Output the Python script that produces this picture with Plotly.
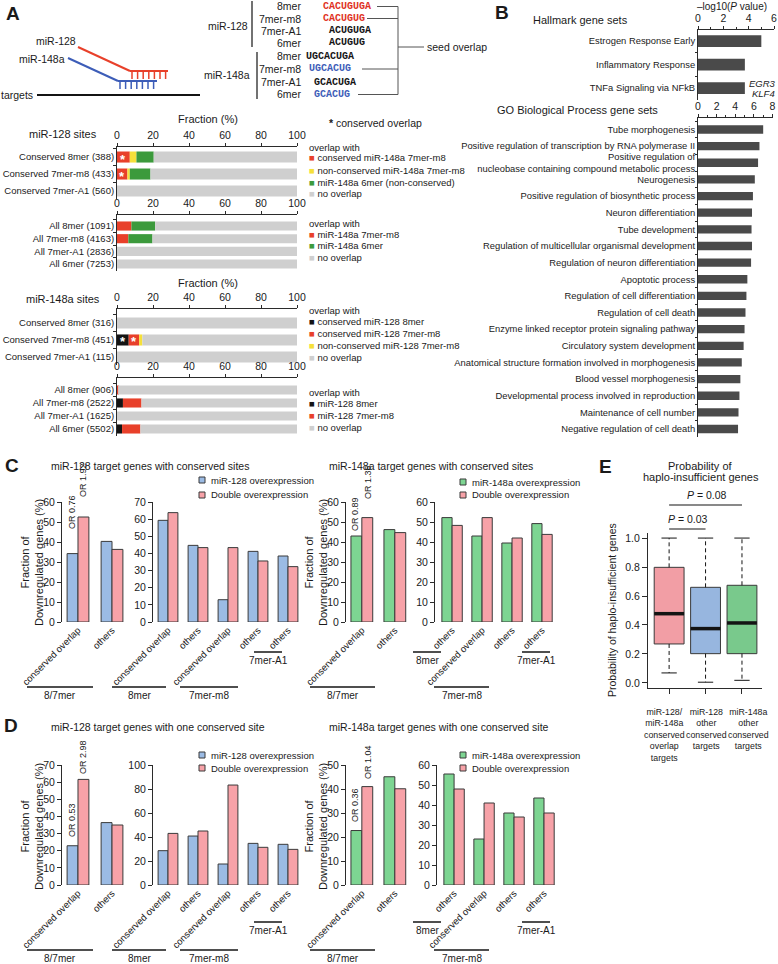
import numpy as np
import plotly.graph_objects as go

W, H = 778, 964
FONT = "Liberation Sans, Arial, Helvetica, sans-serif"
MONO = "Liberation Mono, Courier New, monospace"
TXT = "#1a1a1a"
AX = "#2b2b2b"
EDGE = "#3a3a3a"

RED = "#E8402A"; YELLOW = "#F5E03A"; DKGREEN = "#3C9A3C"; GREY = "#CFCFCF"; BLACK = "#141414"
SEQ_RED = "#E0321E"; SEQ_BLUE = "#3D5DB8"
BLUE_BAR = "#9BBBE4"; PINK_BAR = "#F7A2A8"; GREEN_BAR = "#7DD592"
GO_BAR = "#4a4a4a"
E_COLORS = ["#F29EA5", "#97B6DF", "#79C98C"]

# ======================= DATA =======================
# Panel A: fraction (%) of seed sites overlapping the other miRNA's sites
fraction_ticks = [0, 20, 40, 60, 80, 100]

a128_cons_labels = ["Conserved 8mer (388)", "Conserved 7mer-m8 (433)", "Conserved 7mer-A1 (560)"]
a128_cons_red = [7.1, 5.8, 0.0]
a128_cons_yellow = [3.7, 1.3, 0.0]
a128_cons_green = [9.6, 11.5, 0.0]
a128_cons_legend = ["conserved miR-148a 7mer-m8", "non-conserved miR-148a 7mer-m8",
                    "miR-148a 6mer (non-conserved)", "no overlap"]

a128_all_labels = ["All 8mer (1091)", "All 7mer-m8 (4163)", "All 7mer-A1 (2836)", "All 6mer (7253)"]
a128_all_red = [8.0, 6.3, 0.0, 0.0]
a128_all_green = [13.2, 13.4, 0.0, 0.0]
a128_all_legend = ["miR-148a 7mer-m8", "miR-148a 6mer", "no overlap"]

a148_cons_labels = ["Conserved 8mer (316)", "Conserved 7mer-m8 (451)", "Conserved 7mer-A1 (115)"]
a148_cons_black = [0.0, 6.5, 0.0]
a148_cons_red = [0.0, 5.8, 0.0]
a148_cons_yellow = [0.0, 1.8, 0.0]
a148_cons_legend = ["conserved miR-128 8mer", "conserved miR-128 7mer-m8",
                    "non-conserved miR-128 7mer-m8", "no overlap"]

a148_all_labels = ["All 8mer (906)", "All 7mer-m8 (2522)", "All 7mer-A1 (1625)", "All 6mer (5502)"]
a148_all_black = [0.0, 3.3, 0.0, 2.8]
a148_all_red = [0.6, 10.3, 0.0, 10.2]
a148_all_legend = ["miR-128 8mer", "miR-128 7mer-m8", "no overlap"]

# Panel A schematic seed table
mir128_site_types = ["8mer", "7mer-m8", "7mer-A1", "6mer"]
mir128_seqs = ["CACUGUGA", "CACUGUG", "ACUGUGA", "ACUGUG"]
mir148_site_types = ["8mer", "7mer-m8", "7mer-A1", "6mer"]
mir148_seqs = ["UGCACUGA", "UGCACUG", "GCACUGA", "GCACUG"]

# Panel B: enrichment -log10(P)
hallmark_sets = ["Estrogen Response Early", "Inflammatory Response", "TNFa Signaling via NFkB"]
hallmark_logp = [5.0, 3.7, 3.7]
hallmark_ticks = [0, 2, 4, 6]
go_sets = ["Tube morphogenesis",
           "Positive regulation of transcription by RNA polymerase II",
           "Positive regulation of<br>nucleobase containing compound metabolic process",
           "Neurogenesis",
           "Positive regulation of biosynthetic process",
           "Neuron differentiation",
           "Tube development",
           "Regulation of multicellular organismal development",
           "Regulation of neuron differentiation",
           "Apoptotic process",
           "Regulation of cell differentiation",
           "Regulation of cell death",
           "Enzyme linked receptor protein signaling pathway",
           "Circulatory system development",
           "Anatomical structure formation involved in morphogenesis",
           "Blood vessel morphogenesis",
           "Developmental process involved in reproduction",
           "Maintenance of cell number",
           "Negative regulation of cell death"]
go_logp = [7.0, 6.6, 6.45, 6.1, 5.9, 5.8, 5.75, 5.8, 5.7, 5.3, 5.2, 5.1, 5.0, 4.9,
           4.7, 4.55, 4.45, 4.35, 4.3]
go_ticks = [0, 2, 4, 6, 8]

# Panels C/D: fraction of downregulated genes (%)
grp_87 = ["8/7mer", "8/7mer"]
cat_87 = ["conserved overlap", "others"]
grp_128 = ["8mer", "8mer", "7mer-m8", "7mer-m8", "7mer-A1"]
cat_128 = ["conserved overlap", "others", "conserved overlap", "others", "others"]
grp_148 = ["8mer", "7mer-m8", "7mer-m8", "7mer-A1"]
cat_148 = ["others", "conserved overlap", "others", "others"]

c1_single = [34.2, 40.3]; c1_double = [52.5, 36.3]
c2_single = [59.3, 44.7, 13.0, 41.2, 38.5]; c2_double = [63.8, 43.4, 43.4, 35.6, 32.3]
c3_single = [43.0, 46.2]; c3_double = [52.2, 44.7]
c4_single = [52.2, 43.0, 39.5, 49.2]; c4_double = [48.3, 52.2, 42.0, 43.8]
c_odds = ["OR 0.76", "OR 1.92", "OR 0.89", "OR 1.36"]

d1_single = [22.9, 36.4]; d1_double = [61.6, 35.0]
d2_single = [28.6, 40.8, 17.5, 34.7, 33.9]; d2_double = [43.0, 45.0, 83.3, 31.4, 29.7]
d3_single = [22.7, 45.1]; d3_double = [41.0, 40.1]
d4_single = [55.5, 23.0, 36.0, 43.5]; d4_double = [48.0, 41.0, 34.0, 36.0]
d_odds = ["OR 0.53", "OR 2.98", "OR 0.36", "OR 1.04"]

# Panel E: probability of haplo-insufficiency (box statistics)
e_groups = ["miR-128/<br>miR-148a<br>conserved<br>overlap<br>targets",
            "miR-128<br>other<br>conserved<br>targets",
            "miR-148a<br>other<br>conserved<br>targets"]
e_lo = [0.069, 0.005, 0.018]
e_q1 = [0.269, 0.202, 0.202]
e_med = [0.478, 0.375, 0.414]
e_q3 = [0.798, 0.660, 0.674]
e_hi = [1.0, 1.0, 1.0]
e_yticks = [0.0, 0.2, 0.4, 0.6, 0.8, 1.0]
e_pvals = ["<i>P</i> = 0.03", "<i>P</i> = 0.08"]

# ======================= HELPERS =======================
annotations, shapes, traces, axes = [], [], [], {}


def X(px):
    return px / W


def Y(py):
    return 1 - py / H


def tf(size):
    return dict(family=FONT, size=size, color=TXT)


def ann(text, px, py, size=10, xa="center", ya="middle", color=TXT, angle=0, family=FONT, **kw):
    annotations.append(dict(text=text, x=X(px), y=Y(py), xref="paper", yref="paper",
                            showarrow=False, xanchor=xa, yanchor=ya, textangle=angle,
                            borderpad=0, font=dict(family=family, size=size, color=color), **kw))


def seg(x0, y0, x1, y1, color=AX, width=1, dash=None):
    shapes.append(dict(type="line", xref="paper", yref="paper", x0=X(x0), y0=Y(y0),
                       x1=X(x1), y1=Y(y1), line=dict(color=color, width=width, dash=dash)))


def square(px, py, color, size=6):
    shapes.append(dict(type="rect", xref="paper", yref="paper",
                       x0=X(px), x1=X(px + size), y0=Y(py + size / 2), y1=Y(py - size / 2),
                       fillcolor=color, line=dict(color=EDGE, width=1)))


BASE_AX = dict(showgrid=False, zeroline=False, linecolor=AX, linewidth=1, tickcolor=AX,
               tickwidth=1, tickfont=tf(10), automargin=False, fixedrange=True)


def new_axes(xpx, ypx, xopts, yopts):
    n = len(axes) // 2 + 1
    sfx = "" if n == 1 else str(n)
    xo = dict(BASE_AX); xo.update(xopts)
    yo = dict(BASE_AX); yo.update(yopts)
    xo.update(domain=[X(xpx[0]), X(xpx[1])], anchor="y" + sfx)
    yo.update(domain=[Y(ypx[1]), Y(ypx[0])], anchor="x" + sfx)
    axes["xaxis" + sfx] = xo
    axes["yaxis" + sfx] = yo
    return "x" + sfx, "y" + sfx


def stacked(ypx, labels, segments, colors, yrange, width):
    xa, ya = new_axes((117, 297), ypx,
                      dict(range=[0, 100], side="top", showline=True, ticks="outside",
                           ticklen=3, tickvals=fraction_ticks, tickfont=tf(10.5)),
                      dict(type="category", categoryorder="array", categoryarray=labels,
                           range=yrange, showline=True, ticks="outside", ticklen=3,
                           tickson="boundaries", tickfont=tf(9.5)))
    segs = [np.array(s, dtype=float) for s in segments]
    segs.append(100 - np.sum(segs, axis=0))
    base = np.zeros(len(labels))
    for vals, col in zip(segs, colors + [GREY]):
        traces.append(go.Bar(y=labels, x=vals, base=base.copy(), orientation="h", width=width,
                             marker=dict(color=col, line=dict(width=0)), xaxis=xa, yaxis=ya,
                             hoverinfo="skip"))
        base = base + vals
    return xa, ya


def star(xa, ya, xval, label):
    annotations.append(dict(text="<b>*</b>", x=xval, y=label, xref=xa, yref=ya, showarrow=False,
                            yshift=-2, font=dict(family=FONT, size=13, color="white")))


def legend_block(px, ys, header, colors, texts):
    ann(header, px, ys[0], size=9.5, xa="left")
    for yy, col, t in zip(ys[1:], colors, texts):
        ann('<span style="color:%s">■</span> %s' % (col, t), px, yy, size=9.5, xa="left")


def group_chart(xpx, ypx, xrange, yrange, dtick, groups, cats, single, double, col1, w):
    keys = [g + "|" + c for g, c in zip(groups, cats)]
    xa, ya = new_axes(xpx, ypx,
                      dict(type="category", categoryorder="array", categoryarray=keys,
                           tickvals=keys, ticktext=cats, range=xrange, showline=False,
                           ticks="", tickangle=-45, tickfont=tf(9.5)),
                      dict(range=yrange, showline=True, ticks="outside", ticklen=4,
                           tick0=0, dtick=dtick, tickfont=tf(10.5)))
    for vals, col, off in ((single, col1, -w), (double, PINK_BAR, 0)):
        traces.append(go.Bar(x=keys, y=vals, width=w, offset=off,
                             marker=dict(color=col, line=dict(color=EDGE, width=1)),
                             xaxis=xa, yaxis=ya, hoverinfo="skip"))
    return xa, ya


# ======================= PANEL A =======================
ann("<b>A</b>", 13, 14, size=19)
ann("miR-128", 56, 41, size=10.5)
ann("miR-148a", 42, 59, size=10.5)
ann("targets", 34, 95, size=10.5, xa="right")
seg(78, 47, 130, 71, RED, 2); seg(130, 71, 168, 71, RED, 2)
for k in range(7):
    seg(132 + k * 5.6, 71, 132 + k * 5.6, 79, RED, 1.5)
seg(68, 58, 118, 81, SEQ_BLUE, 2); seg(118, 81, 157, 81, SEQ_BLUE, 2)
for k in range(7):
    seg(120 + k * 5.6, 81, 120 + k * 5.6, 89, SEQ_BLUE, 1.5)
seg(37, 95, 200, 95, BLACK, 2)

ann("miR-128", 249, 26, size=10.5, xa="right")
ann("miR-148a", 251, 75, size=10.5, xa="right")
seg(252, 1, 252, 47, BLACK, 1.2)
seg(257, 52, 257, 99, BLACK, 1.2)
site_y128 = [6.5, 18.5, 31, 43]
site_y148 = [56, 69, 82, 94.5]
seq_x128 = [322, 322, 328, 328]
seq_x148 = [305, 308, 313, 313]
seq_c128 = [SEQ_RED, SEQ_RED, BLACK, BLACK]
seq_c148 = [BLACK, SEQ_BLUE, BLACK, SEQ_BLUE]
for t, s, yy, xx, cc in zip(mir128_site_types, mir128_seqs, site_y128, seq_x128, seq_c128):
    ann(t, 302, yy, size=10.5, xa="right")
    ann("<b>%s</b>" % s, xx, yy, size=10, xa="left", color=cc, family=MONO)
for t, s, yy, xx, cc in zip(mir148_site_types, mir148_seqs, site_y148, seq_x148, seq_c148):
    ann(t, 302, yy, size=10.5, xa="right")
    ann("<b>%s</b>" % s, xx, yy, size=10, xa="left", color=cc, family=MONO)
seg(377, 6.5, 398, 6.5, "#555"); seg(367, 18.5, 398, 18.5, "#555")
seg(362, 69, 398, 69, "#555"); seg(358, 94.5, 398, 94.5, "#555")
seg(398, 6.5, 398, 94.5, "#555"); seg(398, 47, 424, 47, "#555")
ann("seed overlap", 426, 47, size=10.5, xa="left")

ann("Fraction (%)", 208, 119, size=11)
ann("miR-128 sites", 63, 134, size=11)
ann("<b>*</b> conserved overlap", 328, 123, size=10.5, xa="left")
xa1, ya1 = stacked((147, 199), a128_cons_labels,
                   [a128_cons_red, a128_cons_yellow, a128_cons_green],
                   [RED, YELLOW, DKGREEN], [2.47, -0.59], 0.65)
for lab, r in zip(a128_cons_labels, a128_cons_red):
    if r > 0:
        star(xa1, ya1, r / 2, lab)
legend_block(308, [147, 158, 170, 182, 194], "overlap with", [RED, YELLOW, DKGREEN, GREY],
             a128_cons_legend)

stacked((215, 271), a128_all_labels, [a128_all_red, a128_all_green], [RED, DKGREEN],
        [3.55, -0.87], 0.72)
legend_block(308, [223, 234, 246, 258], "overlap with", [RED, DKGREEN, GREY], a128_all_legend)

ann("Fraction (%)", 208, 283, size=11)
ann("miR-148a sites", 63, 299, size=11)
xa3, ya3 = stacked((309, 365), a148_cons_labels,
                   [a148_cons_black, a148_cons_red, a148_cons_yellow],
                   [BLACK, RED, YELLOW], [2.47, -0.82], 0.65)
for lab, b, r in zip(a148_cons_labels, a148_cons_black, a148_cons_red):
    if b > 0:
        star(xa3, ya3, b / 2, lab)
    if r > 0:
        star(xa3, ya3, b + r / 2, lab)
legend_block(308, [311, 322, 333, 345, 357], "overlap with", [BLACK, RED, YELLOW, GREY],
             a148_cons_legend)

stacked((378, 436), a148_all_labels, [a148_all_black, a148_all_red], [BLACK, RED],
        [3.54, -0.92], 0.7)
legend_block(308, [392, 403, 415, 427], "overlap with", [BLACK, RED, GREY], a148_all_legend)

# ======================= PANEL B =======================
ann("<b>B</b>", 502, 13, size=19)
ann("Hallmark gene sets", 580, 20, size=11)
ann("–log10(<i>P</i> value)", 732, 7, size=10)
ann("GO Biological Process gene sets", 577, 110, size=11)
ann("<i>EGR3</i>", 777, 83, size=9.5, xa="right")
ann("<i>KLF4</i>", 776, 94, size=9.5, xa="right")

xb1, yb1 = new_axes((698, 774), (30, 100),
                    dict(range=[0, 6], side="top", showline=True, ticks="outside", ticklen=3,
                         tickvals=hallmark_ticks, tickfont=tf(10.5),
                         minor=dict(ticks="outside", ticklen=2, dtick=1, tick0=0, tickcolor=AX)),
                    dict(type="category", categoryorder="array", categoryarray=hallmark_sets,
                         range=[2.51, -0.47], showline=True, ticks="outside", ticklen=2,
                         tickson="boundaries", tickfont=tf(9.4)))
traces.append(go.Bar(y=hallmark_sets, x=hallmark_logp, orientation="h", width=0.5,
                     marker=dict(color=GO_BAR, line=dict(width=0)), xaxis=xb1, yaxis=yb1,
                     hoverinfo="skip"))
xb2, yb2 = new_axes((698, 772.5), (118, 437),
                    dict(range=[0, 8], side="top", showline=True, ticks="outside", ticklen=3,
                         tickvals=go_ticks, tickfont=tf(10.5),
                         minor=dict(ticks="outside", ticklen=2, dtick=1, tick0=0, tickcolor=AX)),
                    dict(type="category", categoryorder="array", categoryarray=go_sets,
                         range=[18.48, -0.69], showline=True, ticks="outside", ticklen=2,
                         tickson="boundaries", tickfont=tf(9.4)))
traces.append(go.Bar(y=go_sets, x=go_logp, orientation="h", width=0.5,
                     marker=dict(color=GO_BAR, line=dict(width=0)), xaxis=xb2, yaxis=yb2,
                     hoverinfo="skip"))

# ======================= PANELS C & D =======================
ytitle = "Fraction of<br>Downregulated genes (%)"
for (lab, lx, ly, top, t1, t2, ylab, ch, odds, orpos, sq1, sq2, ul_lo, ul_hi) in [
    ("C", 12, 465, 466, "miR-128 target genes with conserved sites",
     "miR-148a target genes with conserved sites", 563,
     [((62, 128), (502, 622), [-0.47, 1.47], [0, 60], 10, grp_87, cat_87, c1_single, c1_double, BLUE_BAR, 0.32),
      ((153, 303), (502, 622), [-0.5, 4.5], [0, 70], 10, grp_128, cat_128, c2_single, c2_double, BLUE_BAR, 0.33),
      ((346, 412), (502, 622), [-0.48, 1.52], [0, 60], 10, grp_87, cat_87, c3_single, c3_double, GREEN_BAR, 0.33),
      ((435, 557), (502, 622), [-0.57, 3.5], [0, 60], 10, grp_148, cat_148, c4_single, c4_double, GREEN_BAR, 0.34)],
     c_odds, [(72, 530), (83, 498), (355, 532), (368, 500)], (480, 495), (482, 495), 687, 652),
    ("D", 11, 725, 727, "miR-128 target genes with one conserved site",
     "miR-148a target genes with one conserved site", 827,
     [((62, 128), (765, 885), [-0.47, 1.47], [0, 70], 10, grp_87, cat_87, d1_single, d1_double, BLUE_BAR, 0.32),
      ((153, 303), (765, 885), [-0.5, 4.5], [0, 100], 20, grp_128, cat_128, d2_single, d2_double, BLUE_BAR, 0.33),
      ((346, 412), (765, 885), [-0.48, 1.52], [0, 50], 10, grp_87, cat_87, d3_single, d3_double, GREEN_BAR, 0.33),
      ((437, 559), (765, 885), [-0.57, 3.5], [0, 60], 10, grp_148, cat_148, d4_single, d4_double, GREEN_BAR, 0.34)],
     d_odds, [(72, 838), (83, 775), (355, 823), (368, 780)], (755, 768), (755, 768), 950, 922)]:
    ann("<b>%s</b>" % lab, lx, ly, size=19)
    ann(t1, 50, top, size=10.5, xa="left")
    ann(t2, 328, top, size=10.5, xa="left")
    for args in ch:
        group_chart(*args)
    ann(ytitle, 32, ylab, size=11, angle=-90)
    ann(ytitle, 316, ylab, size=11, angle=-90)
    for txt, (ox, oy) in zip(odds, orpos):
        ann(txt, ox, oy, size=9, angle=-90, ya="bottom")
    square(199, sq1[0], BLUE_BAR); square(199, sq1[1], PINK_BAR)
    ann("miR-128 overexpression", 210, sq1[0], size=9.5, xa="left")
    ann("Double overexpression", 210, sq1[1], size=9.5, xa="left")
    square(460, sq2[0], GREEN_BAR); square(460, sq2[1], PINK_BAR)
    ann("miR-148a overexpression", 471, sq2[0], size=9.5, xa="left")
    ann("Double overexpression", 471, sq2[1], size=9.5, xa="left")
    # group underlines
    for x0, x1, yy, name in [(27, 93, ul_lo, "8/7mer"), (112, 166, ul_lo, "8mer"),
                             (180, 238, ul_lo, "7mer-m8"), (254, 282, ul_hi, "7mer-A1"),
                             (310, 375, ul_lo, "8/7mer"), (413, 441, ul_hi, "8mer"),
                             (434, 489, ul_lo, "7mer-m8"), (522, 550, ul_hi, "7mer-A1")]:
        seg(x0, yy, x1, yy, BLACK, 1.5)
        ann(name, (x0 + x1) / 2, yy + 8.5, size=10)

# ======================= PANEL E =======================
ann("<b>E</b>", 605, 466, size=19)
ann("Probability of", 700, 466, size=11)
ann("haplo-insufficient genes", 701, 477, size=11)
ann("Probability of haplo-insufficient genes", 612, 610, size=10.5, angle=-90)
xe, ye = new_axes((648, 762), (533, 688),
                  dict(range=[-0.58, 2.55], showline=True, ticks="outside", ticklen=5,
                       tickvals=[0, 1, 2], ticktext=["", "", ""], tickangle=0),
                  dict(range=[-0.035, 1.035], showline=True, ticks="outside", ticklen=5,
                       tickvals=e_yticks, tickformat=".1f", tickfont=tf(10.5)))
for i, (glabel, gx) in enumerate(zip(e_groups, [664, 706, 748])):
    ann(glabel, gx, 706, size=8.8, ya="top")
for i in range(len(e_groups)):
    traces.append(go.Box(x=[i], q1=[e_q1[i]], median=[e_med[i]], q3=[e_q3[i]],
                         lowerfence=[e_q1[i]], upperfence=[e_q3[i]], width=0.82,
                         orientation="v", fillcolor=E_COLORS[i],
                         line=dict(color=EDGE, width=1), whiskerwidth=0, boxpoints=False,
                         xaxis=xe, yaxis=ye, hoverinfo="skip"))
    traces.append(go.Scatter(x=[i, i, None, i, i], y=[e_q3[i], e_hi[i], None, e_q1[i], e_lo[i]],
                             mode="lines", line=dict(color=BLACK, width=1, dash="4px,3px"),
                             xaxis=xe, yaxis=ye, hoverinfo="skip"))
    traces.append(go.Scatter(x=[i - 0.21, i + 0.21, None, i - 0.21, i + 0.21],
                             y=[e_hi[i], e_hi[i], None, e_lo[i], e_lo[i]],
                             mode="lines", line=dict(color=BLACK, width=1),
                             xaxis=xe, yaxis=ye, hoverinfo="skip"))
    traces.append(go.Scatter(x=[i - 0.41, i + 0.41], y=[e_med[i], e_med[i]], mode="lines",
                             line=dict(color=BLACK, width=3.5), xaxis=xe, yaxis=ye,
                             hoverinfo="skip"))
for (g0, g1), ptxt, ly, ty, tx in [((0, 1), e_pvals[0], 529, 519, 688),
                                   ((0, 2), e_pvals[1], 505, 495, 707)]:
    shapes.append(dict(type="line", xref=xe, yref="paper", x0=g0, x1=g1, y0=Y(ly), y1=Y(ly),
                       line=dict(color=BLACK, width=1.2)))
    ann(ptxt, tx, ty, size=10.5)

# ======================= FIGURE =======================
fig = go.Figure(data=traces)
fig.update_layout(width=W, height=H, autosize=False, margin=dict(l=0, r=0, t=0, b=0),
                  paper_bgcolor="white", plot_bgcolor="rgba(0,0,0,0)", showlegend=False,
                  barmode="overlay", font=dict(family=FONT, color=TXT),
                  annotations=annotations, shapes=shapes, **axes)
fig.write_html("out.html", config={"displayModeBar": False},
               post_script="document.body.style.margin='0px';"
                           "document.body.style.overflow='hidden';")
